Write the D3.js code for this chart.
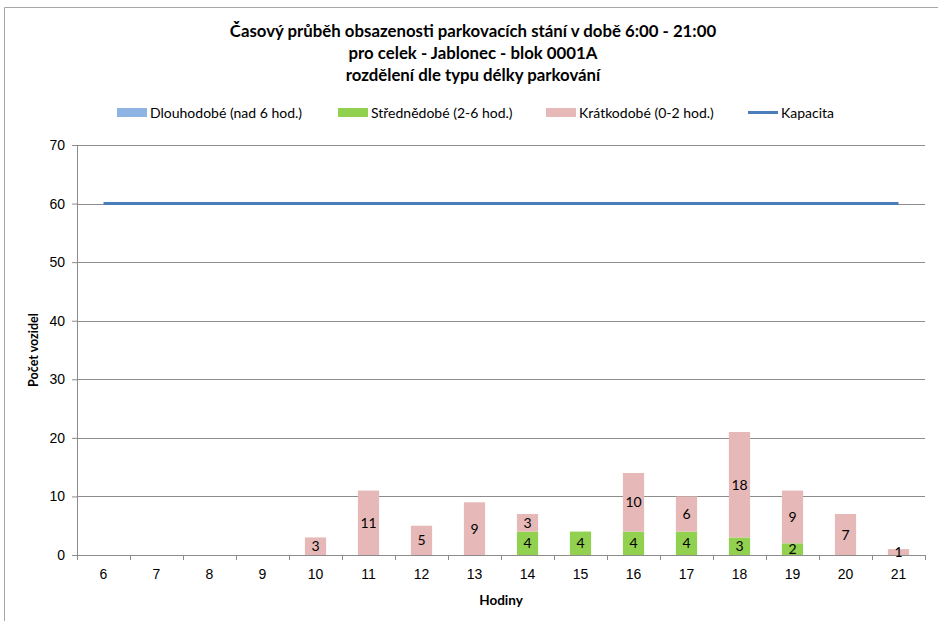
<!DOCTYPE html>
<html>
<head>
<meta charset="utf-8">
<script src="https://cdn.jsdelivr.net/npm/d3@7"></script>
<style>
  body { margin: 0; background: #fff; }
  svg { display: block; font-family: Lato, "Open Sans", sans-serif; }
</style>
</head>
<body>
<div class="canvas"></div>
<script>
// data
const hours = ['6','7','8','9','10','11','12','13','14','15','16','17','18','19','20','21'];
const dlouhodobe = [0,0,0,0,0,0,0,0,0,0,0,0,0,0,0,0];
const strednedobe = [0,0,0,0,0,0,0,0,4,4,4,4,3,2,0,0];
const kratkodobe = [0,0,0,0,3,11,5,9,3,0,10,6,18,9,7,1];
const kapacita = [60,60,60,60,60,60,60,60,60,60,60,60,60,60,60,60];
const yTicks = [0,10,20,30,40,50,60,70];
const titleLines = [
  'Časový průběh obsazenosti parkovacích stání v době 6:00 - 21:00',
  'pro celek - Jablonec - blok 0001A',
  'rozdělení dle typu délky parkování'
];

const seriesNames = ['Dlouhodobé (nad 6 hod.)','Střednědobé (2-6 hod.)','Krátkodobé (0-2 hod.)'];
const colors = ['#8db4e2','#92d050','#e6b9b8'];
const lineColor = '#4a7ebb';

const svg = d3.select('.canvas')
  .append('svg')
    .attr('width',938)
    .attr('height',621);

// outer chart frame
svg.append('path')
  .attr('d','M4.5,621 V7.5 H938')
  .attr('fill','none')
  .attr('stroke','#a6a6a6')
  .attr('stroke-width',1);

const margin = {top:145,left:77,right:13,bottom:66};
const graphWidth = 938 - margin.left - margin.right;
const graphHeight = 621 - margin.top - margin.bottom;

const graph = svg.append('g')
  .attr('transform',`translate(${margin.left},${margin.top})`);

const x = d3.scaleBand()
  .domain(hours)
  .range([0,graphWidth])
  .paddingInner(0.6)
  .paddingOuter(0.3);

const xBand = d3.scaleBand()
  .domain(hours)
  .range([0,graphWidth]);

const y = d3.scaleLinear()
  .domain([0,70])
  .range([graphHeight,0]);

// gridlines
graph.selectAll('line.grid')
  .data(yTicks.slice(1))
  .enter()
  .append('line')
    .attr('class','grid')
    .attr('x1',0)
    .attr('x2',graphWidth)
    .attr('y1',d => Math.round(y(d)) + 0.5)
    .attr('y2',d => Math.round(y(d)) + 0.5)
    .attr('stroke','#8c8c8c')
    .attr('stroke-width',1);

// y axis
const yAxis = d3.axisLeft(y).tickValues(yTicks).tickSize(5).tickPadding(7);
const yG = graph.append('g').call(yAxis);
yG.select('.domain').attr('stroke','#8c8c8c').attr('d',`M-5,${graphHeight}.5H0.5V0.5H-5`);
yG.selectAll('.tick line').attr('stroke','#8c8c8c');
yG.selectAll('text').attr('font-size',14).attr('fill','#000');

// x axis
const xAxis = d3.axisBottom(xBand).tickSize(0).tickPadding(14);
const xG = graph.append('g')
  .attr('transform',`translate(0,${graphHeight})`)
  .call(xAxis);
xG.select('.domain').attr('stroke','#8c8c8c').attr('d',`M0.5,0.5H${graphWidth}.5`);
xG.selectAll('text').attr('font-size',14).attr('fill','#000');
xG.selectAll('line.bt')
  .data(hours.concat(['end']))
  .enter()
  .append('line')
    .attr('class','bt')
    .attr('x1',(d,i) => Math.round(i * xBand.bandwidth()) + 0.5)
    .attr('x2',(d,i) => Math.round(i * xBand.bandwidth()) + 0.5)
    .attr('y1',0)
    .attr('y2',5)
    .attr('stroke','#8c8c8c');

// stacked bars
const table = hours.map((h,i) => ({hour:h, d:dlouhodobe[i], s:strednedobe[i], k:kratkodobe[i]}));
const stack = d3.stack().keys(['d','s','k'])(table);

const layers = graph.selectAll('g.layer')
  .data(stack)
  .enter()
  .append('g')
    .attr('class','layer')
    .attr('fill',(d,i) => colors[i]);

layers.selectAll('rect')
  .data(d => d)
  .enter()
  .append('rect')
    .attr('x',d => x(d.data.hour))
    .attr('width',x.bandwidth())
    .attr('y',d => y(d[1]))
    .attr('height',d => y(d[0]) - y(d[1]));

// data labels
layers.selectAll('text')
  .data(d => d.filter(p => p[1] - p[0] > 0))
  .enter()
  .append('text')
    .attr('x',d => x(d.data.hour) + x.bandwidth()/2)
    .attr('y',d => (y(d[0]) + y(d[1]))/2)
    .attr('dy','0.36em')
    .attr('text-anchor','middle')
    .attr('font-size',14)
    .attr('fill','#000')
    .text(d => d[1] - d[0]);

// capacity line
const line = d3.line()
  .x((d,i) => xBand(hours[i]) + xBand.bandwidth()/2)
  .y(d => y(d));

graph.append('path')
  .datum(kapacita)
  .attr('d',line)
  .attr('fill','none')
  .attr('stroke',lineColor)
  .attr('stroke-width',3);

// axis titles
svg.append('text')
  .attr('x',margin.left + graphWidth/2)
  .attr('y',605)
  .attr('text-anchor','middle')
  .attr('font-size',13.5)
  .attr('font-weight','bold')
  .text('Hodiny');

svg.append('text')
  .attr('transform',`translate(38,${margin.top + graphHeight/2}) rotate(-90)`)
  .attr('text-anchor','middle')
  .attr('font-size',12.5)
  .attr('font-weight','bold')
  .text('Počet vozidel');

// title
svg.selectAll('text.title')
  .data(titleLines)
  .enter()
  .append('text')
    .attr('class','title')
    .attr('x',473)
    .attr('y',(d,i) => 37 + i*22)
    .attr('text-anchor','middle')
    .attr('font-size',16.8)
    .attr('font-weight','bold')
    .text(d => d);

// legend
const legendItems = [
  {name:seriesNames[0], color:colors[0], x:117, type:'rect'},
  {name:seriesNames[1], color:colors[1], x:338, type:'rect'},
  {name:seriesNames[2], color:colors[2], x:546, type:'rect'},
  {name:'Kapacita', color:lineColor, x:748, type:'line'}
];

const legend = svg.selectAll('g.legend')
  .data(legendItems)
  .enter()
  .append('g')
    .attr('class','legend')
    .attr('transform',d => `translate(${d.x},108)`);

legend.filter(d => d.type === 'rect')
  .append('rect')
    .attr('width',30)
    .attr('height',9)
    .attr('fill',d => d.color);

legend.filter(d => d.type === 'line')
  .append('line')
    .attr('x1',0)
    .attr('x2',30)
    .attr('y1',4.5)
    .attr('y2',4.5)
    .attr('stroke',d => d.color)
    .attr('stroke-width',3);

legend.append('text')
  .attr('x',33)
  .attr('y',4.5)
  .attr('dy','0.36em')
  .attr('font-size',14)
  .text(d => d.name);
</script>
</body>
</html>
